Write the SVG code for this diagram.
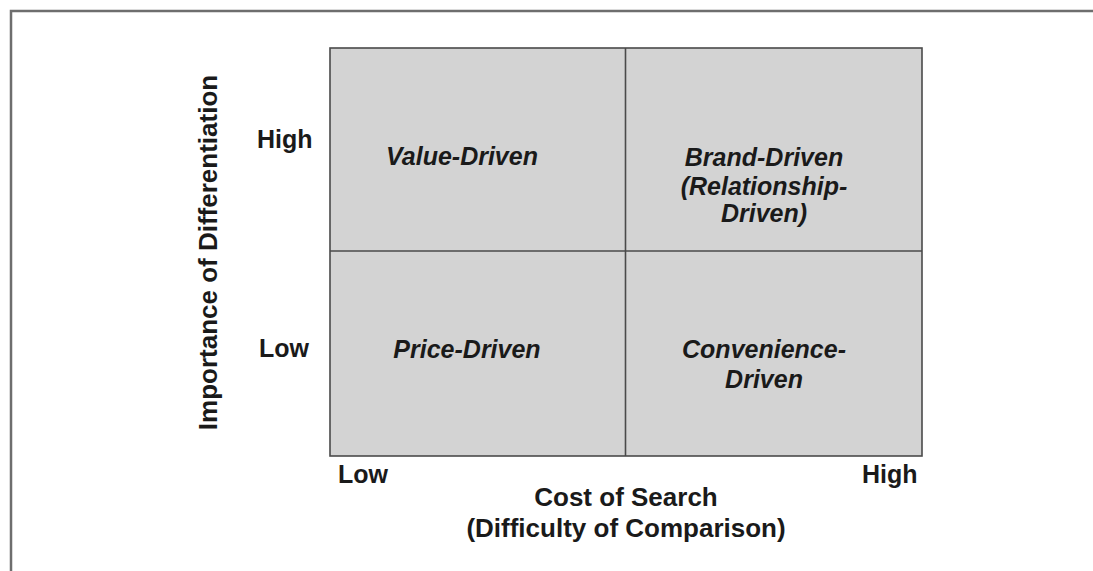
<svg xmlns="http://www.w3.org/2000/svg" width="1093" height="571" viewBox="0 0 1093 571">
  <style>
    .frame { fill: none; stroke: #6e6e6e; stroke-width: 2.5; }
    .cell { fill: #d3d3d3; stroke: none; }
    .grid { fill: none; stroke: #4a4a4a; stroke-width: 1.6; }
    .axis { font-family: "Liberation Sans", Arial, sans-serif; font-weight: bold; font-size: 25px; fill: #1a1a1a; }
    .title { font-size: 26px; text-anchor: middle; }
    .label { font-family: "Liberation Sans", Arial, sans-serif; font-weight: bold; font-style: italic; font-size: 25px; fill: #1a1a1a; text-anchor: middle; }
  </style>
  <rect width="1093" height="571" fill="#ffffff"/>
  <!-- outer frame: only top and left edges lie inside the page -->
  <path class="frame" d="M11 571 V11 H1093"/>

  <!-- quadrant matrix -->
  <g id="matrix">
    <rect class="cell" x="330" y="48" width="592" height="408"/>
    <rect class="grid" x="330" y="48" width="592" height="408"/>
  </g>
  <g id="connectors">
    <line class="grid" x1="625.5" y1="48" x2="625.5" y2="456"/>
    <line class="grid" x1="330" y1="251" x2="922" y2="251"/>
  </g>

  <g id="q-value">
    <text class="label" x="462" y="165">Value-Driven</text>
  </g>
  <g id="q-brand">
    <text class="label" x="764" y="166">Brand-Driven</text>
    <text class="label" x="764" y="195">(Relationship-</text>
    <text class="label" x="764" y="222">Driven)</text>
  </g>
  <g id="q-price">
    <text class="label" x="467" y="358">Price-Driven</text>
  </g>
  <g id="q-convenience">
    <text class="label" x="764" y="358">Convenience-</text>
    <text class="label" x="764" y="388">Driven</text>
  </g>

  <!-- vertical axis -->
  <g id="y-axis">
    <text class="axis title" transform="translate(217 252.5) rotate(-90)">Importance of Differentiation</text>
    <text class="axis" x="257" y="148">High</text>
    <text class="axis" x="259" y="357">Low</text>
  </g>

  <!-- horizontal axis -->
  <g id="x-axis">
    <text class="axis" x="338" y="483">Low</text>
    <text class="axis" x="862" y="483">High</text>
    <text class="axis title" x="626" y="506">Cost of Search</text>
    <text class="axis title" x="626" y="537">(Difficulty of Comparison)</text>
  </g>
</svg>
